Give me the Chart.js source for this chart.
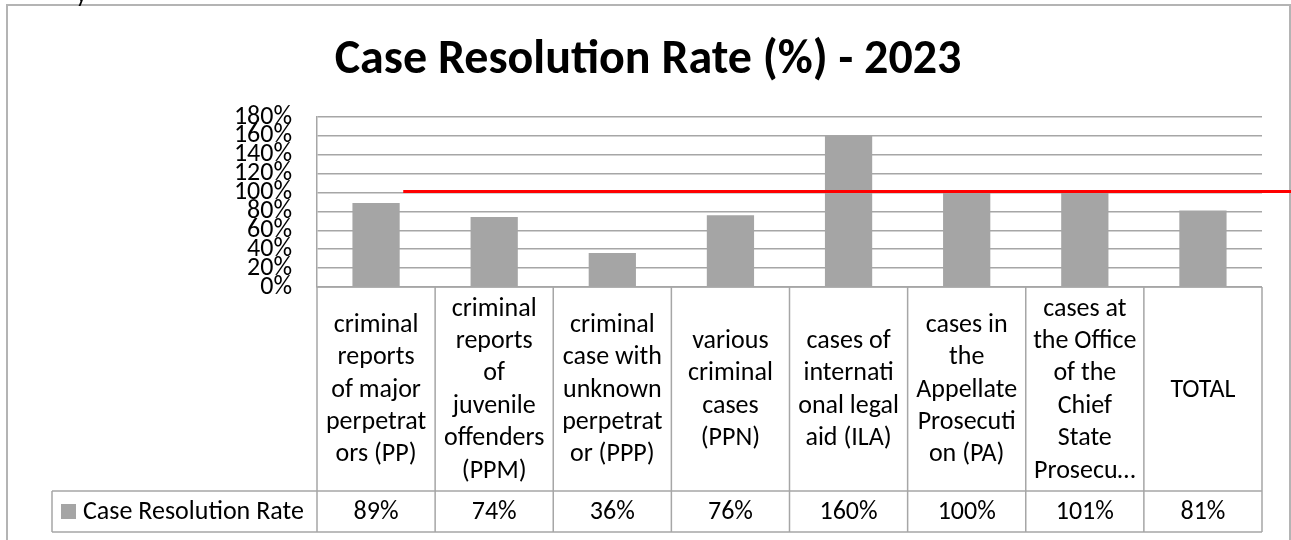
<!DOCTYPE html>
<html>
<head>
<meta charset="utf-8">
<title>Case Resolution Rate (%) - 2023</title>
<script src="https://cdn.jsdelivr.net/npm/chart.js@4.4.0/dist/chart.umd.min.js"></script>
<style>
  html, body { margin: 0; padding: 0; background: #fff; }
  #wrap { position: relative; width: 1291px; height: 540px; overflow: hidden; }
  #cut { position: absolute; left: 76px; top: -21px; font: 24px Calibri, Carlito, Lato, sans-serif; z-index: 2; }
  canvas { display: block; }
</style>
</head>
<body>
<div id="wrap">
  <div id="cut">y</div>
  <canvas id="chart" width="1291" height="540"></canvas>
</div>
<script>
// category labels, wrapped the same way the spreadsheet wraps them
const categories = [
  ['criminal', 'reports', 'of major', 'perpetrat', 'ors (PP)'],
  ['criminal', 'reports', 'of', 'juvenile', 'offenders', '(PPM)'],
  ['criminal', 'case with', 'unknown', 'perpetrat', 'or (PPP)'],
  ['various', 'criminal', 'cases', '(PPN)'],
  ['cases of', 'internati', 'onal legal', 'aid (ILA)'],
  ['cases in', 'the', 'Appellate', 'Prosecuti', 'on (PA)'],
  ['cases at', 'the Office', 'of the', 'Chief', 'State', 'Prosecu\u2026'],
  ['TOTAL']
];
const seriesName = 'Case Resolution Rate';
const rateValues = [89, 74, 36, 76, 160, 100, 101, 81];
const yTicks = [0, 20, 40, 60, 80, 100, 120, 140, 160, 180];
const targetValue = 100;

const FONT = 'Calibri, Carlito, Lato, sans-serif';
const GRID = '#a6a6a6';
const BAR = '#a5a5a5';

// outer frame of the chart object
const frame = {
  id: 'frame',
  beforeDraw(chart) {
    const ctx = chart.ctx;
    ctx.save();
    ctx.strokeStyle = '#b4b4b4';
    ctx.lineWidth = 2;
    ctx.strokeRect(7, 5, 1283, 600);
    ctx.restore();
  }
};

// red 100% line, runs out past the plot area
const targetLine = {
  id: 'targetLine',
  afterDatasetsDraw(chart) {
    const { ctx, scales: { x, y } } = chart;
    const py = y.getPixelForValue(targetValue) - 1;
    ctx.save();
    ctx.strokeStyle = '#ff0000';
    ctx.lineWidth = 3;
    ctx.beginPath();
    ctx.moveTo(x.getPixelForValue(0.23), py);
    ctx.lineTo(chart.width, py);
    ctx.stroke();
    ctx.restore();
  }
};

// excel style data table under the plot
const dataTable = {
  id: 'dataTable',
  afterDraw(chart) {
    const { ctx, chartArea, scales: { x } } = chart;
    const top = chartArea.bottom;
    const split = top + 204;
    const bottom = split + 41;
    const left = chartArea.left, right = chartArea.right;
    const slot = (right - left) / categories.length;
    const keyLeft = 52;
    const lineH = 32.4;

    ctx.save();
    ctx.strokeStyle = GRID;
    ctx.lineWidth = 1.5;
    ctx.beginPath();
    ctx.moveTo(left, top); ctx.lineTo(right, top);
    ctx.moveTo(keyLeft, split); ctx.lineTo(right, split);
    ctx.moveTo(keyLeft, bottom); ctx.lineTo(right, bottom);
    ctx.moveTo(keyLeft, split); ctx.lineTo(keyLeft, bottom);
    for (let i = 0; i <= categories.length; i++) {
      const px = left + i * slot;
      ctx.moveTo(px, top); ctx.lineTo(px, bottom);
    }
    ctx.stroke();

    ctx.fillStyle = '#000';
    ctx.font = '26px ' + FONT;
    ctx.textAlign = 'center';
    ctx.textBaseline = 'middle';
    categories.forEach((lines, i) => {
      const cx = x.getPixelForValue(i);
      const y0 = (top + split) / 2 - (lines.length - 1) * lineH / 2;
      lines.forEach((t, j) => ctx.fillText(t, cx, y0 + j * lineH + 1));
      ctx.fillText(rateValues[i] + '%', cx, (split + bottom) / 2 + 1);
    });

    // legend key + series name
    const my = (split + bottom) / 2;
    ctx.fillStyle = BAR;
    ctx.fillRect(61, my - 7.5, 15, 15);
    ctx.fillStyle = '#000';
    ctx.textAlign = 'left';
    ctx.fillText(seriesName, 83, my + 1);
    ctx.restore();
  }
};

new Chart(document.getElementById('chart'), {
  type: 'bar',
  data: {
    labels: categories,
    datasets: [{
      label: seriesName,
      data: rateValues,
      backgroundColor: BAR,
      categoryPercentage: 1,
      barPercentage: 0.4
    }]
  },
  options: {
    responsive: false,
    animation: false,
    layout: { padding: { top: 0, left: 34, right: 29, bottom: 253 } },
    plugins: {
      legend: { display: false },
      tooltip: { enabled: false },
      title: {
        display: true,
        text: 'Case Resolution Rate (%) - 2023',
        color: '#000',
        font: { family: FONT, size: 48, weight: 'bold' },
        padding: { top: 32, bottom: 27.4 }
      }
    },
    scales: {
      x: { display: false },
      y: {
        min: 0,
        max: 180,
        afterFit(scale) { scale.width = 283; },
        afterBuildTicks(scale) { scale.ticks = yTicks.map(v => ({ value: v })); },
        grid: { color: GRID, lineWidth: 1.5, drawTicks: false },
        border: { display: true, color: GRID, width: 1.5 },
        ticks: {
          autoSkip: false,
          padding: 25,
          color: '#000',
          font: { family: FONT, size: 26 },
          callback: v => v + '%'
        }
      }
    }
  },
  plugins: [frame, targetLine, dataTable]
});
</script>
</body>
</html>
